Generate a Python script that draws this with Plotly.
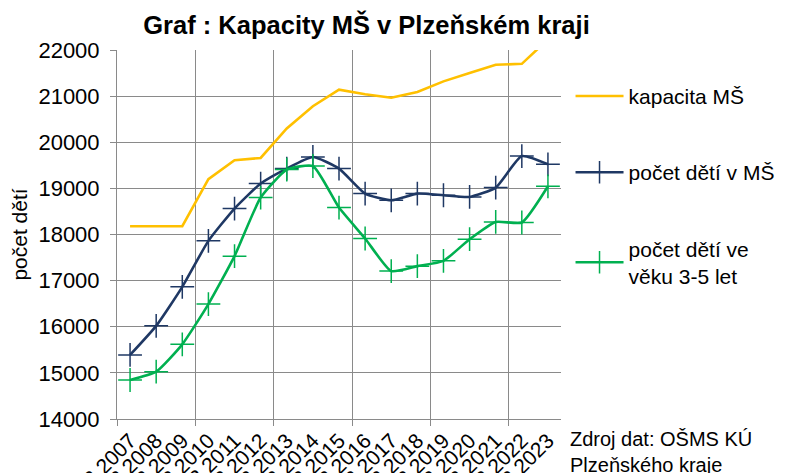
import plotly.graph_objects as go

years = list(range(2007, 2024))
labels = [f"31.12.{y}" for y in years]

kapacita = [18180, 18180, 18180, 19200, 19610, 19660, 20300, 20780, 21140, 21040,
            20965, 21090, 21320, 21500, 21680, 21700, 22230]
deti_ms = [15390, 16020, 16866, 17862, 18563, 19104, 19429, 19680, 19429, 18887,
           18742, 18887, 18851, 18814, 19017, 19701, 19522]
deti_3_5 = [14846, 15026, 15619, 16491, 17530, 18801, 19407, 19485, 18584, 17913,
            17206, 17314, 17429, 17898, 18273, 18260, 19045]

names = ["kapacita MŠ", "počet dětí v MŠ", "počet dětí ve<br>věku 3-5 let"]
colors = ["#FFC000", "#1F3864", "#00B050"]

FONT = "Liberation Sans, Arial, sans-serif"
GRID = "#8A8A8A"

xs = list(range(len(years)))
fig = go.Figure()
fig.add_trace(go.Scatter(x=xs, y=kapacita, name=names[0], mode="lines",
                         line=dict(color=colors[0], width=2.6), legendgroup="a"))
fig.add_trace(go.Scatter(x=xs, y=deti_ms, name=names[1], mode="lines+markers",
                         line=dict(color=colors[1], width=2.6, shape="spline", smoothing=0.5),
                         marker=dict(symbol="cross-thin", size=17,
                                     line=dict(color=colors[1], width=1.5)),
                         legendgroup="b"))
fig.add_trace(go.Scatter(x=xs, y=deti_3_5, name=names[2], mode="lines+markers",
                         line=dict(color=colors[2], width=2.6, shape="spline", smoothing=0.5),
                         marker=dict(symbol="cross-thin", size=17,
                                     line=dict(color=colors[2], width=1.5)),
                         legendgroup="c"))

grid_vals = [i - 0.5 for i in range(0, len(years), 3)]

fig.update_layout(
    width=785, height=473,
    margin=dict(l=109, r=232, t=42, b=62),
    paper_bgcolor="white", plot_bgcolor="white",
    font=dict(family=FONT, size=21, color="#000000"),
    title=dict(text="<b>Graf : Kapacity MŠ v Plzeňském kraji</b>",
               font=dict(size=25.5, family=FONT), x=0.4567, xanchor="center",
               y=0.964, yanchor="middle"),
    showlegend=True,
    legend=dict(xref="container", x=0.7166, xanchor="left", y=0.93, yanchor="top",
                font=dict(size=21, family=FONT), tracegroupgap=46,
                itemwidth=48, bgcolor="rgba(0,0,0,0)"),
    xaxis=dict(range=[-0.5, len(years) - 0.5], tickmode="array", tickvals=xs,
               ticktext=labels, tickangle=-45, ticks="", showgrid=False,
               zeroline=False, showline=True, linecolor=GRID, linewidth=1,
               tickfont=dict(size=21), automargin=False,
               minor=dict(tickmode="array", tickvals=grid_vals, ticks="outside",
                          ticklen=6, tickcolor=GRID, showgrid=True,
                          gridcolor=GRID, gridwidth=1)),
    yaxis=dict(range=[14000, 22000], dtick=1000, tick0=14000, ticks="outside",
               ticklen=6, tickcolor=GRID, showgrid=True, gridcolor=GRID,
               gridwidth=1, zeroline=False, showline=True, linecolor=GRID,
               tickfont=dict(size=22), tickformat="d", automargin=False,
               ticklabelstandoff=6,
               title=dict(text="počet dětí", font=dict(size=21), standoff=8)),
)

fig.add_annotation(text="Zdroj dat: OŠMS KÚ<br>Plzeňského kraje", xref="paper",
                   yref="paper", x=1.016, y=-0.02, xanchor="left", yanchor="top",
                   align="left", showarrow=False, font=dict(size=20, family=FONT))

fig.write_html("out.html")
